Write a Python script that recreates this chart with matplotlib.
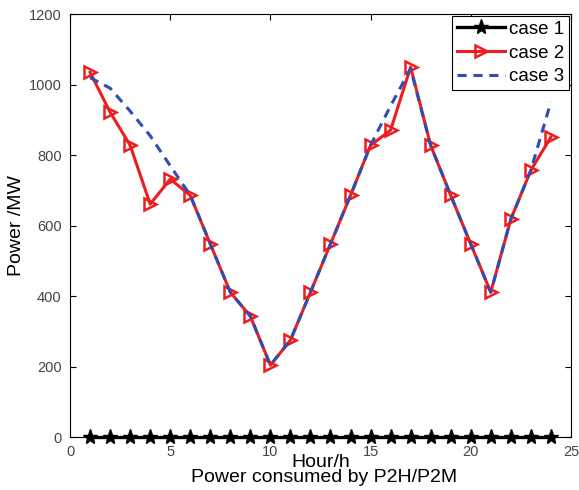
import numpy as np
import matplotlib.pyplot as plt

# --- DATA ---
hours = list(range(1, 25))
case1 = [0] * 24
case2 = [1035, 922, 828, 661, 732, 686, 548, 411, 343, 204, 275, 411,
         548, 686, 828, 871, 1050, 828, 686, 548, 411, 618, 757, 851]
case3 = [1020, 990, 925, 855, 770, 686, 548, 411, 343, 204, 275, 411,
         548, 686, 828, 940, 1045, 828, 686, 548, 411, 618, 757, 951]

plt.rcParams['font.family'] = ['Liberation Sans', 'DejaVu Sans']

# --- PLOT ---
fig = plt.figure(figsize=(5.79, 4.90), dpi=100)
ax = fig.add_axes([0.121, 0.108, 0.865, 0.863])

ax.plot(hours, case1, color='black', lw=2.4, marker='*', ms=11, label='case 1',
        zorder=3, clip_on=False)
ax.plot(hours, case2, color='#ee1c1c', lw=2.2, marker='>', ms=9, mfc='none',
        mew=1.8, label='case 2', zorder=2)
ax.plot(hours, case3, color='#2b4fb4', lw=2.2, ls=(0, (3, 2.2)), label='case 3', zorder=4)

ax.set_xlim(0, 25)
ax.set_ylim(0, 1200)
ax.set_xticks(range(0, 26, 5))
ax.set_yticks(range(0, 1201, 200))
ax.tick_params(direction='in', top=True, right=True, length=4, labelsize=10.5,
               labelcolor='#444444', pad=6)
for s in ax.spines.values():
    s.set_linewidth(0.8)

ax.set_xlabel('Hour/h', fontsize=14, labelpad=-4)
ax.set_ylabel('Power /MW', fontsize=14, labelpad=3)
fig.text(0.56, 0.025, 'Power consumed by P2H/P2M', fontsize=14, ha='center', va='center')

leg = ax.legend(loc='upper right', fontsize=13.5, fancybox=False, framealpha=1,
                edgecolor='black', borderpad=0.25, handlelength=2.6,
                handletextpad=0.2, labelspacing=0.35, borderaxespad=0.1)
leg.get_frame().set_linewidth(0.8)

plt.savefig('out.png')
